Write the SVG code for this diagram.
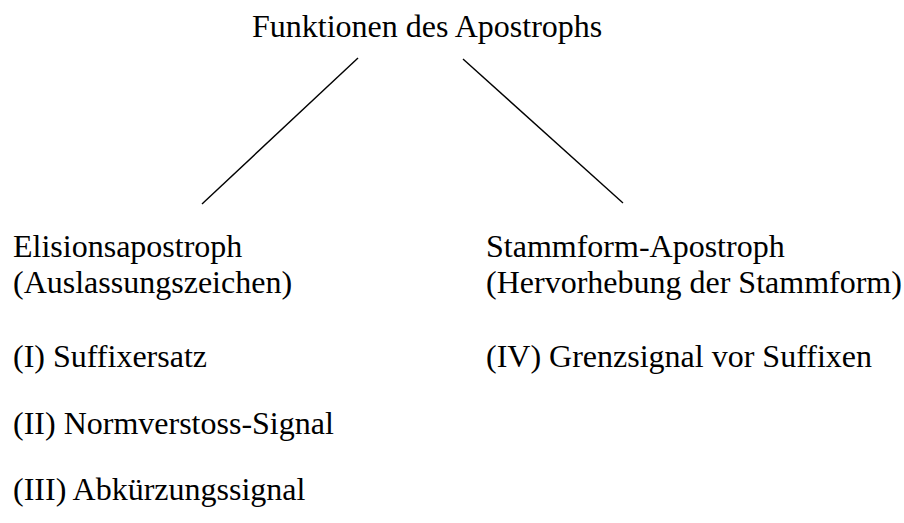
<svg xmlns="http://www.w3.org/2000/svg" width="904" height="523" viewBox="0 0 904 523">
  <style>
    text { font-family: "Liberation Serif", "Times New Roman", serif; font-size: 32px; fill: #000; }
    .conn line { stroke: #000; stroke-width: 1.4; }
  </style>
  <rect width="904" height="523" fill="#fff"/>
  <g id="connectors" class="conn">
    <line x1="358" y1="58" x2="202" y2="204"/>
    <line x1="463" y1="59" x2="623" y2="203"/>
  </g>
  <g id="root">
    <text x="252" y="37">Funktionen des Apostrophs</text>
  </g>
  <g id="elision">
    <text x="13" y="257">Elisionsapostroph</text>
    <text x="13" y="293">(Auslassungszeichen)</text>
    <text x="13" y="367">(I) Suffixersatz</text>
    <text x="13" y="434">(II) Normverstoss-Signal</text>
    <text x="13" y="500">(III) Abkürzungssignal</text>
  </g>
  <g id="stammform">
    <text x="486" y="257">Stammform-Apostroph</text>
    <text x="486" y="293">(Hervorhebung der Stammform)</text>
    <text x="486" y="367">(IV) Grenzsignal vor Suffixen</text>
  </g>
</svg>
